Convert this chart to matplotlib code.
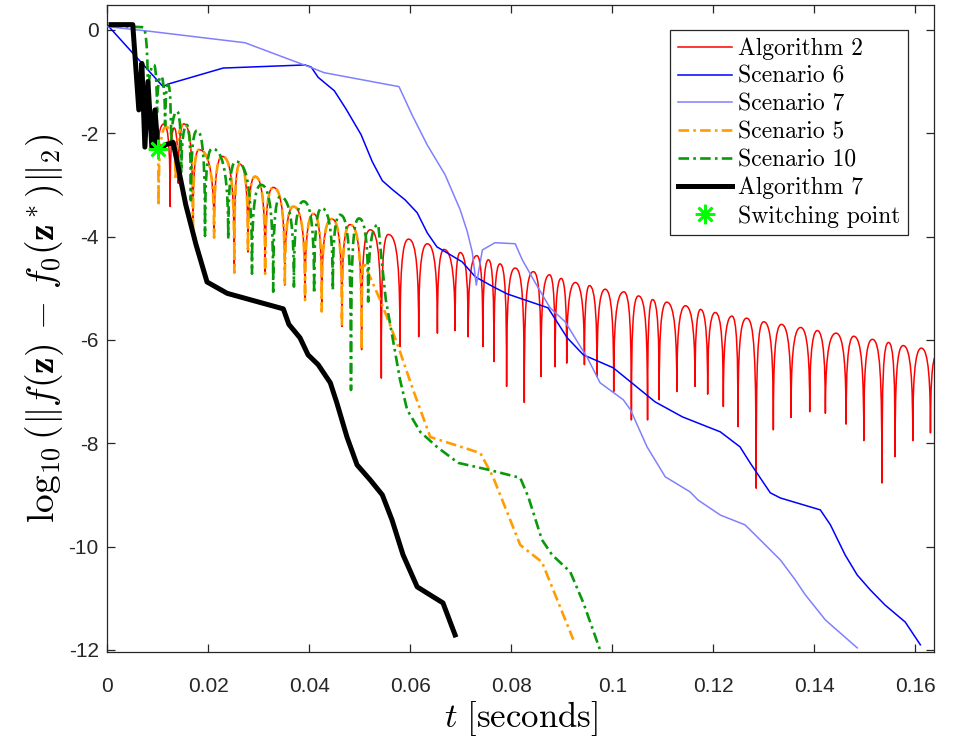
import matplotlib
matplotlib.use("Agg")
import matplotlib.pyplot as plt
from matplotlib.path import Path
from matplotlib.patches import PathPatch
from matplotlib.lines import Line2D
from matplotlib import font_manager

plt.rcParams["mathtext.fontset"] = "cm"

# ---------------- data (t in seconds, value = log10 error) ----------------
# Algorithm 2: shared start with Algorithm 7 up to the switching point,
# then alternating dips / peaks of the oscillating error (first entry is a dip)
alg2_lead_t = [0.0008, 0.0051, 0.0063, 0.0069, 0.0075, 0.0081, 0.0089, 0.0095]
alg2_lead_v = [0.10, 0.10, -1.55, -0.65, -2.27, -1.00, -2.30, -1.55]
alg2_t = [0.0101, 0.0113, 0.0125, 0.0133, 0.0141, 0.0152, 0.0170, 0.0182, 0.0212, 0.0228,
          0.0252, 0.0263, 0.0279, 0.0293, 0.0313, 0.0329, 0.0352, 0.0369, 0.0392, 0.0409,
          0.0425, 0.0445, 0.0465, 0.0481, 0.0504, 0.0521, 0.0543, 0.0557, 0.0580, 0.0597,
          0.0617, 0.0634, 0.0654, 0.0667, 0.0689, 0.0699, 0.0715, 0.0732, 0.0744, 0.0755,
          0.0766, 0.0778, 0.0791, 0.0808, 0.0826, 0.0844, 0.0859, 0.0876, 0.0887, 0.0899,
          0.0910, 0.0927, 0.0945, 0.0955, 0.0970, 0.0986, 0.1003, 0.1023, 0.1038, 0.1052,
          0.1070, 0.1080, 0.1093, 0.1108, 0.1128, 0.1145, 0.1164, 0.1175, 0.1189, 0.1204,
          0.1220, 0.1237, 0.1249, 0.1266, 0.1285, 0.1300, 0.1319, 0.1335, 0.1354, 0.1373,
          0.1391, 0.1406, 0.1422, 0.1443, 0.1463, 0.1478, 0.1498, 0.1515, 0.1534, 0.1547,
          0.1560, 0.1576, 0.1595, 0.1612, 0.1630, 0.1642]
alg2_v = [-2.30, -1.82, -3.42, -1.90, -2.97, -1.82, -3.97, -2.32, -4.02, -2.45,
          -4.70, -2.60, -4.30, -2.84, -4.72, -3.05, -4.94, -3.42, -5.23, -3.56,
          -5.45, -3.66, -5.74, -3.77, -6.19, -3.87, -6.74, -3.96, -6.13, -4.05,
          -5.94, -4.14, -5.87, -4.25, -5.82, -4.31, -5.94, -4.37, -6.13, -4.45,
          -6.42, -4.53, -6.90, -4.61, -7.21, -4.68, -6.71, -4.74, -6.52, -4.81,
          -6.45, -4.89, -6.48, -4.95, -6.71, -5.02, -7.00, -5.07, -7.55, -5.15,
          -7.55, -5.22, -7.16, -5.27, -7.00, -5.34, -6.90, -5.41, -7.05, -5.47,
          -7.29, -5.54, -7.68, -5.58, -8.87, -5.65, -7.74, -5.70, -7.50, -5.76,
          -7.39, -5.82, -7.42, -5.87, -7.63, -5.93, -7.95, -5.99, -8.77, -6.05,
          -8.26, -6.11, -7.95, -6.16, -7.80, -6.30]

# Scenario 6
sc6_t = [0.0002, 0.0111, 0.0121, 0.0230, 0.0392, 0.0404, 0.0418, 0.0450, 0.0473, 0.0503,
         0.0525, 0.0545, 0.0566, 0.0590, 0.0614, 0.0634, 0.0653, 0.0679, 0.0703, 0.0729,
         0.0764, 0.0792, 0.0828, 0.0873, 0.0911, 0.0943, 0.1002, 0.1036, 0.1085, 0.1139,
         0.1214, 0.1253, 0.1273, 0.1313, 0.1333, 0.1412, 0.1432, 0.1461, 0.1485, 0.1511,
         0.1540, 0.1580, 0.1610]
sc6_v = [0.08, -1.10, -1.05, -0.74, -0.68, -0.72, -0.92, -1.18, -1.53, -2.03,
         -2.55, -2.92, -3.10, -3.29, -3.54, -3.93, -4.20, -4.35, -4.49, -4.78,
         -4.97, -5.11, -5.23, -5.38, -5.96, -6.29, -6.54, -6.81, -7.20, -7.49,
         -7.78, -8.07, -8.38, -8.96, -9.06, -9.29, -9.58, -10.16, -10.55, -10.84,
         -11.13, -11.46, -11.90]

# Scenario 7
sc7_t = [0.0002, 0.0077, 0.0273, 0.0352, 0.0404, 0.0430, 0.0578, 0.0604, 0.0634, 0.0669,
         0.0699, 0.0713, 0.0723, 0.0731, 0.0743, 0.0768, 0.0808, 0.0822, 0.0848, 0.0877,
         0.0907, 0.0937, 0.0950, 0.0976, 0.1022, 0.1036, 0.1069, 0.1105, 0.1154, 0.1170,
         0.1214, 0.1263, 0.1293, 0.1333, 0.1362, 0.1382, 0.1422, 0.1485]
sc7_v = [0.06, -0.02, -0.25, -0.54, -0.73, -0.83, -1.10, -1.65, -2.23, -2.80,
         -3.48, -3.90, -4.30, -4.94, -4.26, -4.12, -4.14, -4.45, -4.90, -5.38,
         -5.65, -6.13, -6.33, -6.83, -7.16, -7.35, -8.07, -8.65, -8.94, -9.10,
         -9.39, -9.58, -9.87, -10.26, -10.64, -10.93, -11.42, -11.96]

# Scenario 5: oscillation from the switching point (first entry is a peak), then a smooth tail
sc5_t = [0.0101, 0.0102, 0.0117, 0.0136, 0.0152, 0.0170, 0.0182, 0.0212, 0.0228, 0.0252,
         0.0263, 0.0279, 0.0293, 0.0313, 0.0329, 0.0352, 0.0369, 0.0392, 0.0409, 0.0425,
         0.0445, 0.0465, 0.0481, 0.0504, 0.0508]
sc5_v = [-2.30, -3.40, -1.88, -2.90, -1.82, -3.97, -2.32, -4.02, -2.45, -4.70,
         -2.60, -4.30, -2.84, -4.72, -3.05, -4.94, -3.42, -5.23, -3.56, -5.45,
         -3.66, -5.74, -3.77, -6.19, -4.50]
sc5_tail_t = [0.0543, 0.0574, 0.0606, 0.0640, 0.0739, 0.0764, 0.0818, 0.0861, 0.0897, 0.0923]
sc5_tail_v = [-5.28, -6.06, -6.97, -7.88, -8.19, -8.65, -9.97, -10.30, -11.17, -11.80]

# Scenario 10: flat start, oscillation (first entry is a peak), then a smooth tail
sc10_lead_t = [0.0008]
sc10_lead_v = [0.08]
sc10_t = [0.0071, 0.0081, 0.0093, 0.0099, 0.0107, 0.0115, 0.0121, 0.0127, 0.0139, 0.0147,
          0.0158, 0.0166, 0.0178, 0.0194, 0.0208, 0.0240, 0.0255, 0.0287, 0.0305, 0.0329,
          0.0343, 0.0370, 0.0389, 0.0410, 0.0425, 0.0447, 0.0461, 0.0483, 0.0499, 0.0517,
          0.0537]
sc10_v = [0.05, -1.45, -0.68, -1.60, -0.90, -1.85, -1.06, -2.25, -1.58, -2.75,
          -1.84, -3.30, -1.95, -3.99, -2.30, -4.05, -2.55, -4.72, -3.00, -5.07,
          -3.23, -4.97, -3.32, -5.10, -3.45, -5.03, -3.58, -6.97, -3.65, -5.26,
          -3.77]
sc10_tail_t = [0.0543, 0.0552, 0.0580, 0.0594, 0.0620, 0.0653, 0.0695, 0.0758, 0.0818, 0.0834,
               0.0861, 0.0881, 0.0917, 0.0943, 0.0976]
sc10_tail_v = [-4.40, -5.23, -6.77, -7.35, -7.78, -8.07, -8.38, -8.52, -8.67, -9.04,
               -9.87, -10.16, -10.49, -11.09, -12.00]

# Algorithm 7
alg7_t = [0.0008, 0.0051, 0.0063, 0.0069, 0.0075, 0.0081, 0.0089, 0.0095, 0.0101, 0.0117,
          0.0131, 0.0156, 0.0176, 0.0198, 0.0238, 0.0349, 0.0360, 0.0382, 0.0398, 0.0418,
          0.0442, 0.0455, 0.0475, 0.0495, 0.0521, 0.0545, 0.0564, 0.0586, 0.0614, 0.0665,
          0.0689]
alg7_v = [0.10, 0.10, -1.55, -0.65, -2.27, -1.00, -2.30, -1.55, -2.32, -2.22,
          -2.18, -3.39, -4.15, -4.88, -5.10, -5.40, -5.70, -5.96, -6.29, -6.48,
          -6.83, -7.22, -7.88, -8.42, -8.71, -9.00, -9.48, -10.16, -10.78, -11.09,
          -11.71]

switch_t = [0.0101]
switch_v = [-2.30]

labels = ["Algorithm 2", "Scenario 6", "Scenario 7", "Scenario 5", "Scenario 10",
          "Algorithm 7", "Switching point"]
xticks = [0, 0.02, 0.04, 0.06, 0.08, 0.1, 0.12, 0.14, 0.16]
xtick_labels = ["0", "0.02", "0.04", "0.06", "0.08", "0.1", "0.12", "0.14", "0.16"]
yticks = [-12, -10, -8, -6, -4, -2, 0]
ytick_labels = ["-12", "-10", "-8", "-6", "-4", "-2", "0"]


def arc_path(seq_t, seq_v, first_is_dip, lead_t=(), lead_v=(), tail_t=(), tail_v=(),
             knee=0.7, rnd=0.2):
    """Path through alternating dips and peaks, joined by arches that leave
    each dip vertically and flatten out at each peak."""
    verts, codes = [], []
    for i, (x, y) in enumerate(zip(lead_t, lead_v)):
        verts.append((x, y))
        codes.append(Path.MOVETO if i == 0 else Path.LINETO)
    verts.append((seq_t[0], seq_v[0]))
    codes.append(Path.LINETO if codes else Path.MOVETO)
    dip = first_is_dip
    for k in range(1, len(seq_t)):
        x0, y0, x1, y1 = seq_t[k - 1], seq_v[k - 1], seq_t[k], seq_v[k]
        if dip:
            a = min(knee, 0.7 * abs(y1 - y0))
            c1, c2 = (x0, y1 - a), (x0 + rnd * (x1 - x0), y1)
        else:
            a = min(knee, 0.7 * abs(y0 - y1))
            c1, c2 = (x1 - rnd * (x1 - x0), y0), (x1, y0 - a)
        verts += [c1, c2, (x1, y1)]
        codes += [Path.CURVE4] * 3
        dip = not dip
    for x, y in zip(tail_t, tail_v):
        verts.append((x, y))
        codes.append(Path.LINETO)
    return Path(verts, codes)


# ---------------- styling ----------------
def pick_font(names):
    avail = {f.name for f in font_manager.fontManager.ttflist}
    for n in names:
        if n in avail:
            return n
    return "DejaVu Sans"

tick_font = pick_font(["Liberation Sans Narrow", "Liberation Sans"])
tick_size = 17.5 if tick_font == "Liberation Sans Narrow" else 15

c_red = "#FF0000"
c_blue = "#0000FF"
c_lblue = "#8080FF"
c_orange = "#FF9C00"
c_green = "#0A990A"
axis_col = "#262626"
dashdot = (0, (4.0, 1.6, 1.0, 1.6))

fig = plt.figure(figsize=(9.54, 7.42), dpi=100)
ax = fig.add_axes([107 / 954, 1 - 652 / 742, 827 / 954, 647 / 742])

ax.add_patch(PathPatch(arc_path(alg2_t, alg2_v, True, alg2_lead_t, alg2_lead_v),
                       fill=False, edgecolor=c_red, lw=1.1, joinstyle="round", zorder=2))
ax.plot(sc6_t, sc6_v, color=c_blue, lw=1.1, zorder=3)
ax.plot(sc7_t, sc7_v, color=c_lblue, lw=1.1, zorder=4)
ax.add_patch(PathPatch(arc_path(sc5_t, sc5_v, False, tail_t=sc5_tail_t, tail_v=sc5_tail_v),
                       fill=False, edgecolor=c_orange, lw=1.9, linestyle=dashdot,
                       joinstyle="round", zorder=5))
ax.add_patch(PathPatch(arc_path(sc10_t, sc10_v, False, sc10_lead_t, sc10_lead_v,
                                sc10_tail_t, sc10_tail_v),
                       fill=False, edgecolor=c_green, lw=1.9, linestyle=dashdot,
                       joinstyle="round", zorder=6))
ax.plot(alg7_t, alg7_v, color="black", lw=3.6, solid_joinstyle="round", zorder=7)
ax.plot(switch_t, switch_v, linestyle="none", marker=(8, 2, 0), markersize=14,
        markeredgewidth=1.9, color="#00FF00", zorder=8)

ax.set_xlim(0, 0.1637)
ax.set_ylim(-12.04, 0.48)
ax.set_xticks(xticks)
ax.set_xticklabels(xtick_labels)
ax.set_yticks(yticks)
ax.set_yticklabels(ytick_labels)
ax.tick_params(direction="in", length=6, width=0.9, color=axis_col, top=True, right=True,
               labelsize=tick_size, labelcolor=axis_col)
ax.tick_params(axis="x", pad=18)
ax.tick_params(axis="y", pad=6)
for lab in ax.get_xticklabels() + ax.get_yticklabels():
    lab.set_fontfamily(tick_font)
for sp in ax.spines.values():
    sp.set_color(axis_col)
    sp.set_linewidth(0.9)

ax.set_xlabel(r"$t\ \mathrm{[seconds]}$", fontsize=25, labelpad=2)
ax.set_ylabel(r"$\log_{10}(\|f(\mathbf{z})\,-\,f_0(\mathbf{z}^*)\|_2)$", fontsize=27,
              labelpad=2)

handles = [
    Line2D([], [], color=c_red, lw=1.1),
    Line2D([], [], color=c_blue, lw=1.1),
    Line2D([], [], color=c_lblue, lw=1.1),
    Line2D([], [], color=c_orange, lw=1.9, linestyle=dashdot),
    Line2D([], [], color=c_green, lw=1.9, linestyle=dashdot),
    Line2D([], [], color="black", lw=3.6),
    Line2D([], [], linestyle="none", marker=(8, 2, 0), markersize=14, markeredgewidth=1.9,
           color="#00FF00"),
]
leg = ax.legend(handles, labels, loc="upper right",
                bbox_to_anchor=((908 - 107) / 827, 1 - 25 / 647),
                borderaxespad=0, prop={"family": "cmr10", "size": 17},
                handlelength=2.3, handletextpad=0.25, labelspacing=0.24,
                borderpad=0.32, fancybox=False, framealpha=1, edgecolor=axis_col)
leg.get_frame().set_linewidth(0.9)

fig.savefig("out.png", dpi=100)
